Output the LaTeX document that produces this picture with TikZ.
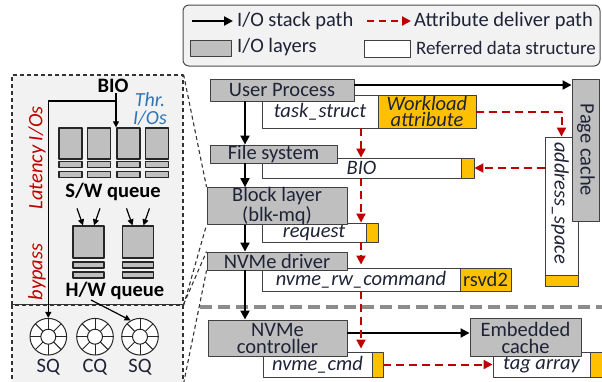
\documentclass[tikz,border=0pt]{standalone}
\usepackage{fontspec}
\setmainfont{Carlito}
\usetikzlibrary{arrows.meta}
\definecolor{layergray}{HTML}{BFBFBF}
\definecolor{attrorange}{HTML}{FFC000}
\definecolor{delivred}{HTML}{C00000}
\definecolor{thrblue}{HTML}{2E75B6}
\definecolor{panelgray}{HTML}{F2F2F2}
\definecolor{sepgray}{HTML}{8C8C8C}
\definecolor{txt}{HTML}{1F2336}
\begin{document}
\begin{tikzpicture}[x=1pt,y=-1pt,line join=round,>={Triangle[length=9pt,width=9pt]},
    font=\fontsize{20.5}{17}\selectfont,text=txt]
  \tikzset{
    layer/.style={draw=black!75,line width=0.9pt,fill=layergray,inner sep=0pt,align=center},
    dstruct/.style={draw=black!75,line width=0.9pt,fill=white,inner sep=0pt,align=center,
      font=\fontsize{20.5}{17}\selectfont\itshape},
    attr/.style={draw=black!75,line width=0.9pt,fill=attrorange,inner sep=0pt,align=center},
    stackpath/.style={->,line width=2pt,draw=black},
    deliver/.style={->,line width=2pt,draw=delivred,dash pattern=on 8pt off 5pt},
    panel/.style={draw=black!80,fill=panelgray,line width=1.1pt,dash pattern=on 4pt off 3pt,inner sep=0pt},
    zoomline/.style={draw=black!80,line width=1.1pt,dash pattern=on 4pt off 3pt},
    qbox/.style={draw=black!85,line width=1.3pt,fill=layergray,inner sep=0pt},
    qarrow/.style={-{Triangle[length=6pt,width=6pt]},line width=1.2pt},
    qlabel/.style={font=\fontsize{20.5}{20}\selectfont\bfseries,text=black,inner sep=0pt},
    note/.style={font=\fontsize{20.5}{17}\selectfont\itshape,inner sep=0pt},
    ring/.style={circle,draw=black!85,fill=white,line width=1pt,minimum size=36.6pt,inner sep=0pt,
      path picture={
        \draw[line width=1pt] (path picture bounding box.center) circle (7.5pt);
        \foreach \a in {0,45,...,315}
          \draw[line width=1pt] ([shift={(\a:7.5pt)}]path picture bounding box.center)
            -- ([shift={(\a:19pt)}]path picture bounding box.center);}},
    legtext/.style={anchor=west,inner sep=0pt}
  }
  \useasboundingbox (0,0) rectangle (602,381);

  % legend
  \draw[rounded corners=6pt,fill=panelgray,draw=black!70,line width=1pt] (183,5) rectangle (600,66);
  \coordinate (lgA) at (192,21);
  \coordinate (lgB) at (233,21);
  \coordinate (lgC) at (367,21);
  \coordinate (lgD) at (411,21);
  \draw[stackpath,line width=2.6pt] (lgA) -- (lgB);
  \draw[deliver,line width=2.6pt,dash pattern=on 7pt off 5pt] (lgC) -- (lgD);
  \node[legtext] (lgstack) at (237,21) {I/O stack path};
  \node[legtext] (lgattr) at (414,21) {Attribute deliver path};
  \node[layer,minimum width=41,minimum height=16] (lglayer) at (210.5,48) {};
  \node[legtext] at (237,47) {I/O layers};
  \node[dstruct,minimum width=46,minimum height=17] (lgds) at (387,48.5) {};
  \node[legtext,font=\fontsize{19}{19}\selectfont] at (416,48) {Referred data structure};

  % blk-mq / nvme queue close-up
  \node[panel,minimum width=171,minimum height=230] (mqpanel) at (97.5,190) {};
  \node[panel,minimum width=171,minimum height=78] (nvqpanel) at (97.5,344) {};

  \node[qlabel] (bioq) at (113,86) {BIO};
  \node[note,text=thrblue,align=center,font=\fontsize{20}{17.5}\selectfont\itshape] (thr) at (150,109) {Thr.\\I/Os};
  \node[note,text=delivred,rotate=90] (lat) at (37,158) {Latency I/Os};
  \node[note,text=delivred,rotate=90] (byp) at (37,272) {bypass};

  \foreach \i/\x in {1/70.5,2/99,3/128.5,4/157}{
    \node[qbox,minimum width=23,minimum height=31] (sw\i) at (\x,143.5) {};
    \node[qbox,minimum width=23,minimum height=6] at (\x,164.5) {};
    \node[qbox,minimum width=23,minimum height=6] at (\x,174.5) {};
  }
  \node[qlabel] (swlab) at (113,192) {S/W queue};

  \foreach \i/\x in {1/88.5,2/138}{
    \node[qbox,minimum width=31,minimum height=32] (hw\i) at (\x,242) {};
    \node[qbox,minimum width=31,minimum height=6] at (\x,265) {};
    \node[qbox,minimum width=31,minimum height=6] at (\x,275) {};
    \draw[qarrow] ([xshift=-11.5pt,yshift=17pt]hw\i.north) -- ([xshift=-5.5pt]hw\i.north);
    \draw[qarrow] ([xshift=11.5pt,yshift=17pt]hw\i.north) -- ([xshift=5.5pt]hw\i.north);
  }
  \node[qlabel] (hwlab) at (115,291) {H/W queue};

  \node[ring] (sq1) at (48.3,336.7) {};
  \node[ring] (cq) at (95,336.7) {};
  \node[ring] (sq2) at (140,336.7) {};
  \node[inner sep=0pt] at (48.3,367) {SQ};
  \node[inner sep=0pt] at (95,367) {CQ};
  \node[inner sep=0pt] at (140,367) {SQ};

  \coordinate (split) at (116,101);
  \draw[qarrow] (split |- bioq.south) -- (split |- sw3.north);
  \draw[qarrow] (split) -| (sq1.north);
  \draw[qarrow] ([xshift=-24pt]hwlab.south) -- (sq2.120);

  % referred data structures
  \node[dstruct,minimum width=116,minimum height=33] (task) at (320,111.5) {task\_struct};
  \node[attr,minimum width=98,minimum height=33,font=\fontsize{20.5}{16.5}\selectfont\itshape] (wattr) at (427,111.5) {Workload\\attribute};
  \node[dstruct,minimum width=199,minimum height=20] (bio) at (361.5,168) {BIO};
  \node[attr,minimum width=13,minimum height=20] (bioattr) at (467.5,168) {};
  \node[dstruct,minimum width=104,minimum height=19] (req) at (314,232.5) {request};
  \node[attr,minimum width=12,minimum height=19] (reqattr) at (372,232.5) {};
  \node[dstruct,minimum width=198,minimum height=23] (rw) at (361,279.5) {nvme\_rw\_command};
  \node[attr,minimum width=51,minimum height=23] (rsvd) at (485.5,279.5) {rsvd2};
  \node[dstruct,minimum width=109,minimum height=25] (cmd) at (317.5,364.5) {nvme\_cmd};
  \node[attr,minimum width=11,minimum height=25] (cmdattr) at (377.5,364.5) {};
  \node[dstruct,minimum width=97,minimum height=25] (tag) at (541.5,364.5) {tag array};
  \node[attr,minimum width=12,minimum height=25] (tagattr) at (596,364.5) {};
  \node[dstruct,minimum width=33,minimum height=149] (as) at (561.5,211.5) {};
  \node[attr,minimum width=33,minimum height=11] (asattr) at (561.5,280.5) {};
  \node[note,rotate=-90] (aslab) at (560,203) {address\_space};

  % host / device split
  \coordinate (sepL) at (200,307);
  \coordinate (sepR) at (602,307);
  \draw[sepgray,line width=3.5pt,dash pattern=on 12pt off 6pt] (sepL) -- (sepR);

  % I/O layers
  \node[layer,minimum width=144,minimum height=22] (up) at (282,90) {User Process};
  \node[layer,minimum width=127,minimum height=18] (fs) at (273.5,154) {File system};
  \node[layer,minimum width=140,minimum height=34] (bl) at (277,206) {Block layer\\(blk-mq)};
  \node[layer,minimum width=140,minimum height=18] (drv) at (277,261) {NVMe driver};
  \node[layer,minimum width=139,minimum height=36] (ctrl) at (277.5,338) {NVMe\\controller};
  \node[layer,minimum width=111,minimum height=38] (ec) at (525.5,337.5) {Embedded\\cache};
  \node[layer,minimum width=27,minimum height=142] (pc) at (585.5,150) {};
  \node[rotate=-90,inner sep=0pt] (pclab) at (586,150) {Page cache};

  % close-up guides
  \draw[zoomline] (mqpanel.north east) -- (bl.north west);
  \draw[zoomline] (mqpanel.south east) -- (bl.south west);
  \draw[zoomline] (nvqpanel.north east) -- (drv.north west);
  \draw[zoomline] (nvqpanel.south east) -- (drv.south west);

  % I/O stack path
  \coordinate (spine) at (245,0);
  \draw[stackpath] (up.south -| spine) -- (fs.north -| spine);
  \draw[stackpath] (fs.south -| spine) -- (bl.north -| spine);
  \draw[stackpath] (bl.south -| spine) -- (drv.north -| spine);
  \draw[stackpath] (drv.south -| spine) -- (ctrl.north -| spine);
  \draw[stackpath] ([yshift=5pt]up.east) -- ([yshift=5pt]up.east -| pc.west);
  \draw[stackpath] ([yshift=5pt]ctrl.east) -- ([yshift=5pt]ctrl.east -| ec.west);

  % attribute deliver path
  \coordinate (rline) at (361,0);
  \draw[deliver] (wattr.east) -| (as.north);
  \draw[deliver] (as.west |- bioattr.east) -- (bioattr.east);
  \draw[deliver] (task.south -| rline) -- (bio.north -| rline);
  \draw[deliver] (bio.south -| rline) -- (req.north -| rline);
  \draw[deliver] (req.south -| rline) -- ([yshift=3pt]rw.north -| rline);
  \draw[deliver] (rw.south -| rline) -- ([yshift=3pt]cmd.north -| rline);
  \draw[deliver] (cmdattr.east) -- (tag.west);
\end{tikzpicture}
\end{document}
